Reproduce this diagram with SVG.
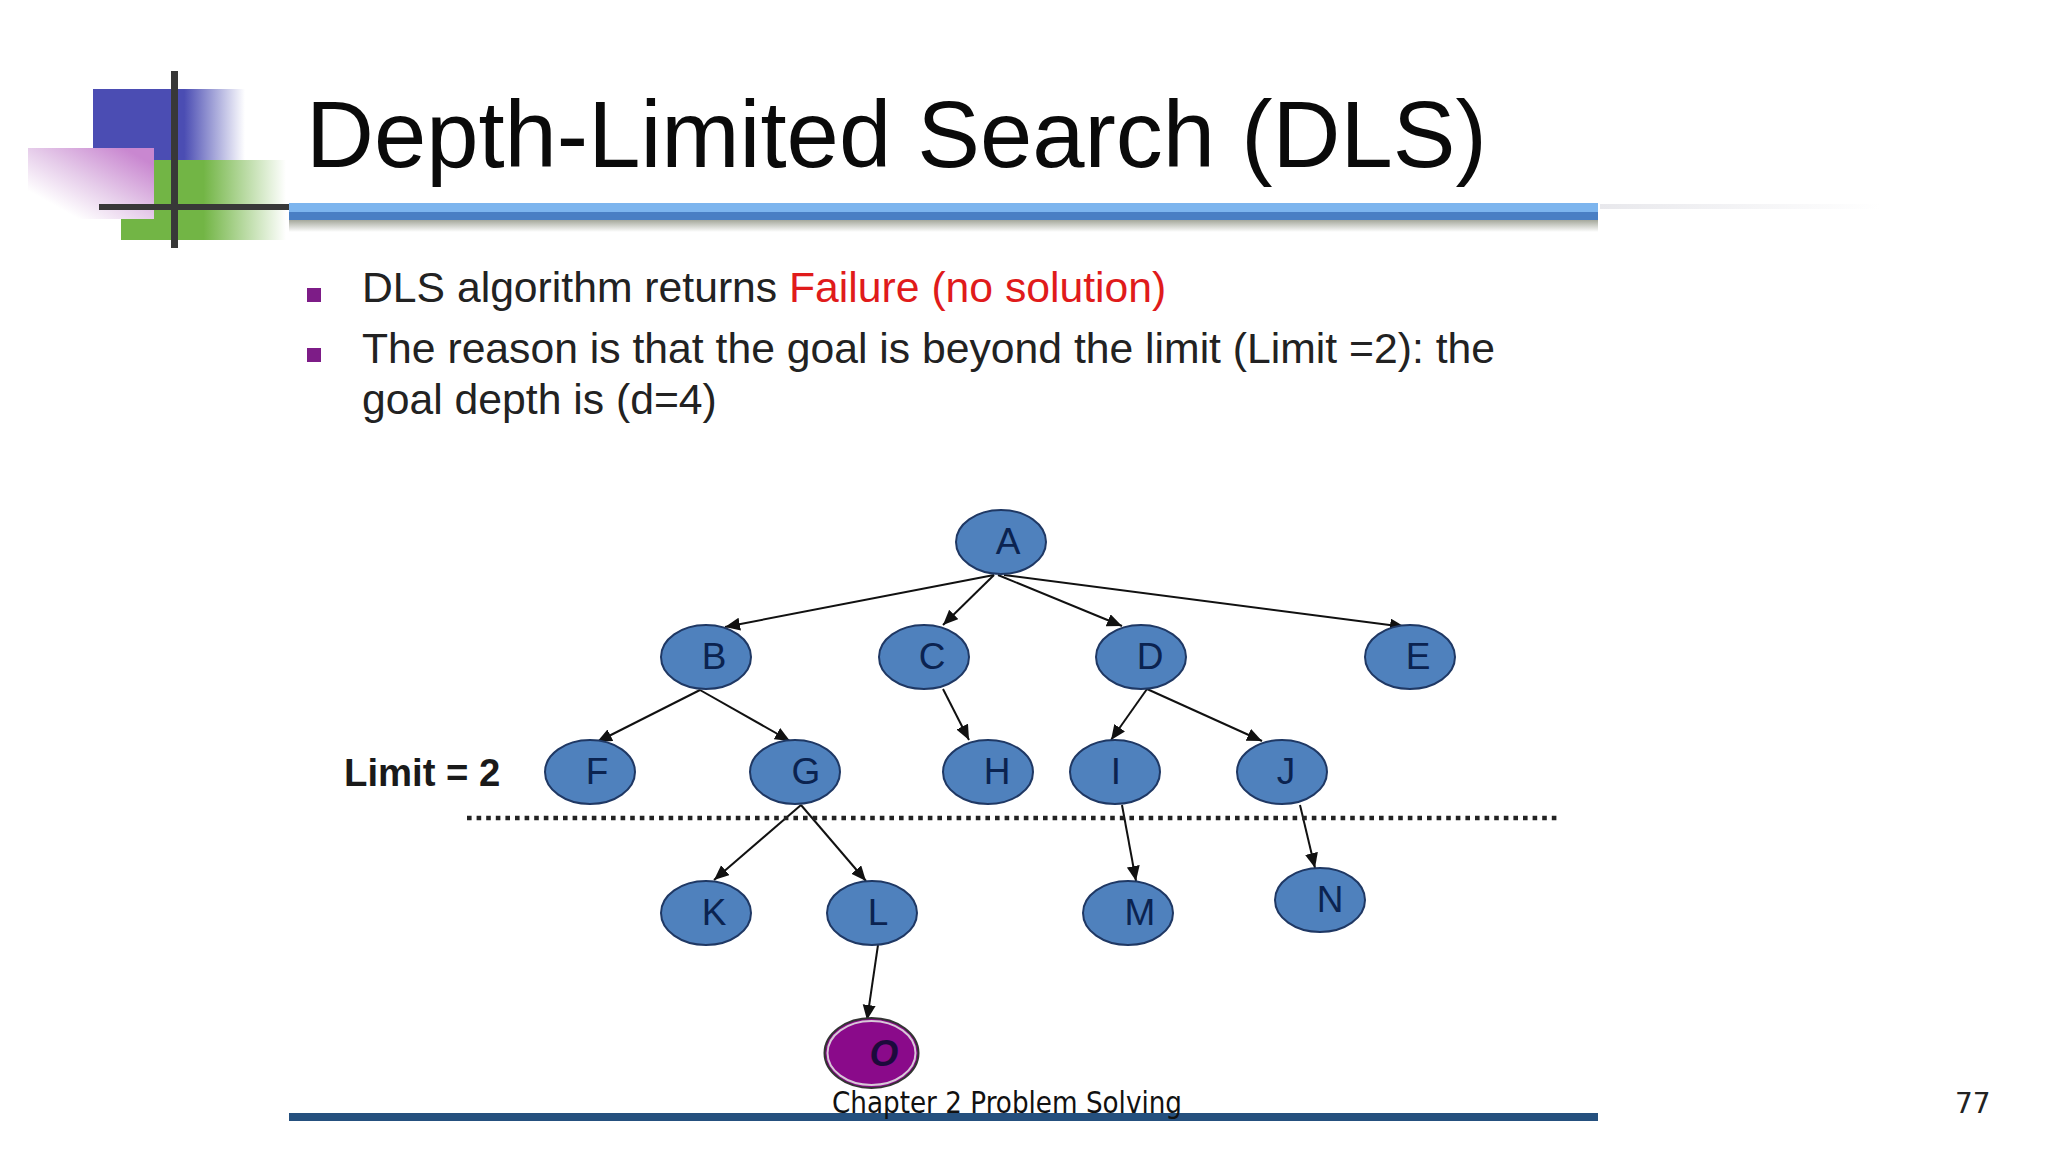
<svg xmlns="http://www.w3.org/2000/svg" width="2048" height="1152" viewBox="0 0 2048 1152">
<style>
.n{fill:#4f81bd;stroke:#1f3864;stroke-width:2}
.l{font:37px "Liberation Sans",Arial,sans-serif;fill:#0b2350;text-anchor:middle}
.b{font:42.700px "Liberation Sans",Arial,sans-serif;fill:#222}
.c line{stroke:#111;stroke-width:2;marker-end:url(#a)}
</style>
<defs>
<marker id="a" markerUnits="userSpaceOnUse" markerWidth="16" markerHeight="14" refX="15" refY="6.5" orient="auto"><path d="M0 0L15 6.5L0 13z" fill="#111"/></marker>
<linearGradient id="gb"><stop offset=".6" stop-color="#4b4db3"/><stop offset="1" stop-color="#4b4db3" stop-opacity="0"/></linearGradient>
<linearGradient id="gg"><stop offset=".5" stop-color="#72b545"/><stop offset="1" stop-color="#72b545" stop-opacity="0"/></linearGradient>
<linearGradient id="gp" x1="1" y1="0" x2="0" y2="1"><stop offset=".12" stop-color="#c987d0"/><stop offset=".5" stop-color="#e6cdea"/><stop offset=".8" stop-color="#fff"/></linearGradient>
<linearGradient id="gs" x1="0" y1="0" x2="0" y2="1"><stop offset="0" stop-color="#a5a89c"/><stop offset="1" stop-color="#a5a89c" stop-opacity="0"/></linearGradient>
<linearGradient id="gf"><stop offset="0" stop-color="#e8e8ec"/><stop offset="1" stop-color="#fff"/></linearGradient>
</defs>
<rect width="2048" height="1152" fill="#fff"/>
<g id="logo">
<rect x="93" y="89" width="152" height="71" fill="url(#gb)"/>
<rect x="121" y="160" width="165" height="80" fill="url(#gg)"/>
<rect x="28" y="148" width="126" height="71" fill="url(#gp)"/>
<rect x="171" y="71" width="7" height="177" fill="#383838"/>
<rect x="99" y="204" width="190" height="6" fill="#383838"/>
</g>
<g id="rules">
<rect x="289" y="203" width="1309" height="9" fill="#7db5ee"/>
<rect x="289" y="212" width="1309" height="8" fill="#4a7fc4"/>
<rect x="289" y="220" width="1309" height="12" fill="url(#gs)"/>
<rect x="1600" y="204" width="280" height="5" fill="url(#gf)"/>
<rect x="289" y="1113" width="1309" height="8" fill="#25507e"/>
</g>
<text x="306" y="167" font-family="Liberation Sans,Arial,sans-serif" font-size="94" fill="#0a0a0a">Depth-Limited Search (DLS)</text>
<g id="bullets">
<rect x="307" y="288" width="14" height="14" fill="#7d1c87"/>
<rect x="307" y="348" width="14" height="14" fill="#7d1c87"/>
<text class="b" x="362" y="302">DLS algorithm returns <tspan fill="#e01b1b">Failure (no solution)</tspan></text>
<text class="b" x="362" y="363">The reason is that the goal is beyond the limit (Limit =2): the</text>
<text class="b" x="362" y="414">goal depth is (d=4)</text>
</g>
<g class="c" id="connectors">
<line x1="994" y1="575" x2="725" y2="627"/>
<line x1="994" y1="575" x2="943" y2="625"/>
<line x1="998" y1="575" x2="1122" y2="626"/>
<line x1="1004" y1="575" x2="1405" y2="627"/>
<line x1="700" y1="690" x2="597" y2="742"/>
<line x1="700" y1="690" x2="790" y2="741"/>
<line x1="943" y1="689" x2="969" y2="740"/>
<line x1="1147" y1="689" x2="1111" y2="740"/>
<line x1="1147" y1="689" x2="1262" y2="741"/>
<line x1="801" y1="805" x2="714" y2="880"/>
<line x1="801" y1="805" x2="866" y2="881"/>
<line x1="1122" y1="805" x2="1136" y2="881"/>
<line x1="1300" y1="805" x2="1315" y2="868"/>
<line x1="878" y1="945" x2="867" y2="1020"/>
<line x1="467" y1="818" x2="1558" y2="818" stroke-dasharray="4.600 5" style="marker:none;stroke-width:4.600;stroke:#222"/>
</g>
<g id="nA"><ellipse class="n" cx="1001" cy="542" rx="45" ry="32"/><text class="l" x="1008" y="554">A</text></g>
<g id="nB"><ellipse class="n" cx="706" cy="657" rx="45" ry="32"/><text class="l" x="714" y="669">B</text></g>
<g id="nC"><ellipse class="n" cx="924" cy="657" rx="45" ry="32"/><text class="l" x="932" y="669">C</text></g>
<g id="nD"><ellipse class="n" cx="1141" cy="657" rx="45" ry="32"/><text class="l" x="1150" y="669">D</text></g>
<g id="nE"><ellipse class="n" cx="1410" cy="657" rx="45" ry="32"/><text class="l" x="1418" y="669">E</text></g>
<g id="nF"><ellipse class="n" cx="590" cy="772" rx="45" ry="32"/><text class="l" x="597" y="784">F</text></g>
<g id="nG"><ellipse class="n" cx="795" cy="772" rx="45" ry="32"/><text class="l" x="806" y="784">G</text></g>
<g id="nH"><ellipse class="n" cx="988" cy="772" rx="45" ry="32"/><text class="l" x="997" y="784">H</text></g>
<g id="nI"><ellipse class="n" cx="1115" cy="772" rx="45" ry="32"/><text class="l" x="1116" y="784">I</text></g>
<g id="nJ"><ellipse class="n" cx="1282" cy="772" rx="45" ry="32"/><text class="l" x="1286" y="784">J</text></g>
<g id="nK"><ellipse class="n" cx="706" cy="913" rx="45" ry="32"/><text class="l" x="714" y="925">K</text></g>
<g id="nL"><ellipse class="n" cx="872" cy="913" rx="45" ry="32"/><text class="l" x="878" y="925">L</text></g>
<g id="nM"><ellipse class="n" cx="1128" cy="913" rx="45" ry="32"/><text class="l" x="1140" y="925">M</text></g>
<g id="nN"><ellipse class="n" cx="1320" cy="900" rx="45" ry="32"/><text class="l" x="1330" y="912">N</text></g>
<g id="nO"><ellipse cx="871.500" cy="1053" rx="47" ry="35" fill="#8a0a8a" stroke="#333" stroke-width="2"/><ellipse cx="871.500" cy="1053" rx="44" ry="32" fill="none" stroke="#d8c8d8" stroke-width="2"/><text class="l" x="884" y="1066" style="font-style:italic;font-weight:bold;fill:#1c0a3c">O</text></g>
<text x="344" y="786" font-family="Liberation Sans,Arial,sans-serif" font-size="38.300" font-weight="bold" fill="#1a1a1a">Limit = 2</text>
<text x="832" y="1113" font-family="DejaVu Sans,sans-serif" font-size="30" fill="#111" textLength="350" lengthAdjust="spacingAndGlyphs">Chapter 2 Problem Solving</text>
<text x="1955" y="1113" font-family="DejaVu Sans,sans-serif" font-size="28" fill="#222">77</text>
</svg>
